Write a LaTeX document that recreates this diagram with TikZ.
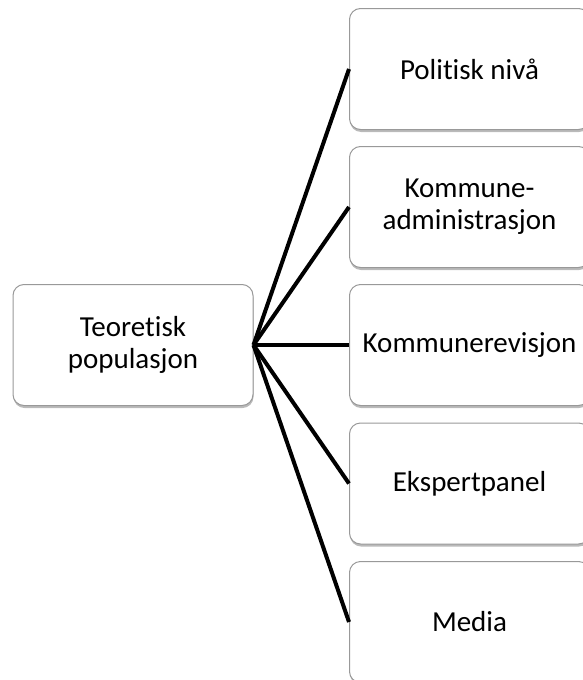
\documentclass[tikz,border=0pt]{standalone}
\usepackage{fontspec}
\setmainfont[Ligatures=NoCommon,RawFeature={-liga;-clig;-calt;-dlig}]{Carlito}
\usetikzlibrary{shadows}
\begin{document}
\begin{tikzpicture}[x=1pt,y=-1pt,
  box/.style={draw=black!40, line width=1pt, fill=white, rounded corners=11pt,
    drop shadow={shadow xshift=0.5pt, shadow yshift=-2.5pt, opacity=0.45, fill=black!60},
    minimum width=240pt, minimum height=121pt, inner sep=0pt, align=center,
    font=\fontsize{29}{32}\selectfont},
  link/.style={line width=4pt, black}]
\useasboundingbox (0,0) rectangle (583,680);
\node[box] (root) at (133,345) {Teoretisk\\populasjon};
\node[box, anchor=west] (a) at (349,69) {Politisk nivå};
\node[box, anchor=west] (b) at (349,207) {Kommune-\\administrasjon};
\node[box, anchor=west] (c) at (349,345) {Kommunerevisjon};
\node[box, anchor=west] (d) at (349,483.5) {Ekspertpanel};
\node[box, anchor=west] (e) at (349,622) {Media};
\foreach \n in {a,b,c,d,e} \draw[link] (root.east) -- (\n.west);
\end{tikzpicture}
\end{document}
